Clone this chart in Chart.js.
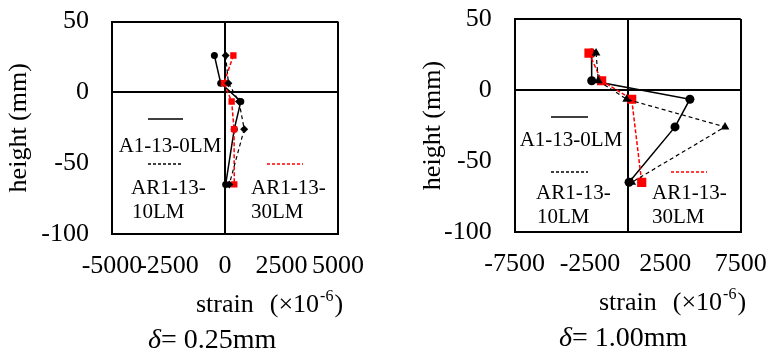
<!DOCTYPE html>
<html>
<head>
<meta charset="utf-8">
<script src="https://cdn.jsdelivr.net/npm/chart.js@4.4.0/dist/chart.umd.min.js"></script>
<style>
  body { margin: 0; background: #fff; }
  #wrap { display: flex; width: 768px; height: 353px; }
  canvas { display: block; }
</style>
</head>
<body>
<div id="wrap">
  <canvas id="c1" width="384" height="353"></canvas>
  <canvas id="c2" width="384" height="353"></canvas>
</div>
<script>
// gauge heights (mm)
const heights = [26, 6.5, -6.5, -26, -65];
const seriesNames = ['A1-13-0LM', 'AR1-13-10LM', 'AR1-13-30LM'];

// delta = 0.25mm, strain (x10^-6)
const a0L = [-470, -190, 700, 410, 30];
const a10L = [30, 150, 620, 850, 190];
const a30L = [370, -45, 295, 400, 410];

// delta = 1.00mm
const a0R = [-2400, -2390, 4130, 3140, 90];
const a10R = [-2100, -1950, -70, 6460, 270];
const a30R = [-2570, -1730, 265, null, 930];

const xTicksL = [-5000, -2500, 0, 2500, 5000];
const xTicksR = [-7500, -2500, 0, 2500, 7500];
const yTicks = [-100, -50, 0, 50];

const SERIF = '"Liberation Serif", "Times New Roman", serif';
const RED = '#FF0000';

function pts(vals) {
    return heights.map((h, i) => ({ x: vals[i], y: h })).filter(p => p.x !== null);
}

// legend + bottom labels, drawn on the canvas
const annotPlugin = {
    id: 'annot',
    afterDraw(chart, args, o) {
        const ctx = chart.ctx;
        ctx.save();
        ctx.fillStyle = '#000';
        ctx.textBaseline = 'middle';

        function sample(x1, x2, y, color, dash) {
            ctx.beginPath();
            ctx.strokeStyle = color;
            ctx.lineWidth = 1.5;
            ctx.setLineDash(dash);
            ctx.moveTo(x1, y);
            ctx.lineTo(x2, y);
            ctx.stroke();
            ctx.setLineDash([]);
        }
        const L = o.leg;
        sample(L.sx1, L.sx2, L.y1, '#000', []);
        sample(L.sx1, L.sx2, L.y2, '#000', [3, 2]);
        sample(L.rx1, L.rx2, L.y2, RED, [3, 2]);

        ctx.font = '21px ' + SERIF;
        ctx.textAlign = 'center';
        ctx.fillText(seriesNames[0], L.cx, L.t1);
        ctx.textAlign = 'left';
        ctx.fillText('AR1-13-', L.lx, L.t2);
        ctx.fillText('10LM', L.lx + 1, L.t3);
        ctx.fillText('AR1-13-', L.rlx, L.t2);
        ctx.fillText('30LM', L.rlx, L.t3);

        // strain (x10^-6)
        let x = o.strainX;
        const y = o.strainY;
        ctx.font = '26px ' + SERIF;
        ctx.fillText('strain', x, y);
        x += ctx.measureText('strain').width + 16;
        ctx.fillText('(\u00d710', x, y);
        x += ctx.measureText('(\u00d710').width + 1;
        ctx.font = '16px ' + SERIF;
        ctx.fillText('-6', x, y - 8);
        x += ctx.measureText('-6').width + 1;
        ctx.font = '26px ' + SERIF;
        ctx.fillText(')', x, y);

        // delta label
        x = o.deltaX;
        ctx.font = 'italic 28px ' + SERIF;
        ctx.fillText('\u03b4', x, o.deltaY);
        x += ctx.measureText('\u03b4').width;
        ctx.font = '28px ' + SERIF;
        ctx.fillText('= ' + o.deltaText, x, o.deltaY);
        ctx.restore();
    }
};

function makeChart(id, d0, d10, d30, xTicks, xr, marker10, r0, r10, r30, lay, annot) {
    const edge = v => v === -xr || v === 0 || v === xr;
    new Chart(document.getElementById(id), {
        type: 'scatter',
        data: {
            datasets: [
                {
                    label: seriesNames[1], data: pts(d10), showLine: true,
                    borderColor: '#000', borderWidth: 1.2, borderDash: [4, 3],
                    pointStyle: marker10, pointRadius: r10,
                    pointBackgroundColor: '#000', pointBorderColor: '#000', pointBorderWidth: 0
                },
                {
                    label: seriesNames[2], data: pts(d30), showLine: true,
                    borderColor: RED, borderWidth: 1.5, borderDash: [4, 2],
                    pointStyle: 'rect', pointRadius: r30,
                    pointBackgroundColor: RED, pointBorderColor: RED, pointBorderWidth: 0
                },
                {
                    label: seriesNames[0], data: pts(d0), showLine: true,
                    borderColor: '#000', borderWidth: 1.5,
                    pointStyle: 'circle', pointRadius: r0,
                    pointBackgroundColor: '#000', pointBorderColor: '#000', pointBorderWidth: 0
                }
            ]
        },
        options: {
            responsive: false,
            animation: false,
            layout: { padding: lay.padding },
            plugins: {
                legend: { display: false },
                tooltip: { enabled: false },
                annot: annot
            },
            scales: {
                x: {
                    type: 'linear', min: -xr, max: xr,
                    afterBuildTicks: s => { s.ticks = xTicks.map(v => ({ value: v })); },
                    afterFit: s => { s.height = lay.xHeight; s.paddingLeft = 0; s.paddingRight = 0; },
                    ticks: {
                        autoSkip: false, maxRotation: 0, minRotation: 0, padding: 17,
                        color: '#000', font: { family: SERIF, size: 26 },
                        callback: v => (v === 0 && xr !== 5000) ? '' : String(v)
                    },
                    grid: {
                        drawTicks: false, lineWidth: 2,
                        color: c => edge(c.tick.value) ? '#000' : 'rgba(0,0,0,0)'
                    },
                    border: { display: true, color: '#000', width: 2 }
                },
                y: {
                    type: 'linear', min: -100, max: 50,
                    afterBuildTicks: s => { s.ticks = yTicks.map(v => ({ value: v })); },
                    afterFit: s => { s.width = lay.yWidth; s.paddingTop = 0; s.paddingBottom = 0; },
                    ticks: {
                        padding: 23, color: '#000', font: { family: SERIF, size: 26 }
                    },
                    grid: {
                        drawTicks: false, lineWidth: 2,
                        color: c => (c.tick.value === 0 || c.tick.value === 50 || c.tick.value === -100) ? '#000' : 'rgba(0,0,0,0)'
                    },
                    border: { display: true, color: '#000', width: 2 },
                    title: {
                        display: true, text: 'height (mm)', color: '#000',
                        font: { family: SERIF, size: 26 }, padding: { top: 4, bottom: 0 }
                    }
                }
            }
        },
        plugins: [annotPlugin]
    });
}

makeChart('c1', a0L, a10L, a30L, xTicksL, 5000, 'rectRot', 3.5, 4, 4.5,
    { padding: { left: 0, top: 21.5, right: 46, bottom: 0 }, yWidth: 112, xHeight: 119 },
    {
        leg: { sx1: 148, sx2: 183, rx1: 267, rx2: 303, y1: 119, y2: 164, cx: 170, t1: 146, lx: 131, rlx: 251, t2: 188, t3: 212 },
        strainX: 196, strainY: 305, deltaX: 148, deltaY: 341, deltaText: '0.25mm'
    });

makeChart('c2', a0R, a10R, a30R, xTicksR, 7500, 'triangle', 4.5, 5, 6.5,
    { padding: { left: 30, top: 19, right: 27.3, bottom: 0 }, yWidth: 100.7, xHeight: 121 },
    {
        leg: { sx1: 167, sx2: 204, rx1: 287, rx2: 323, y1: 117, y2: 172, cx: 187, t1: 140, lx: 152, rlx: 268, t2: 193, t3: 217 },
        strainX: 215, strainY: 303, deltaX: 175, deltaY: 339, deltaText: '1.00mm'
    });
</script>
</body>
</html>
